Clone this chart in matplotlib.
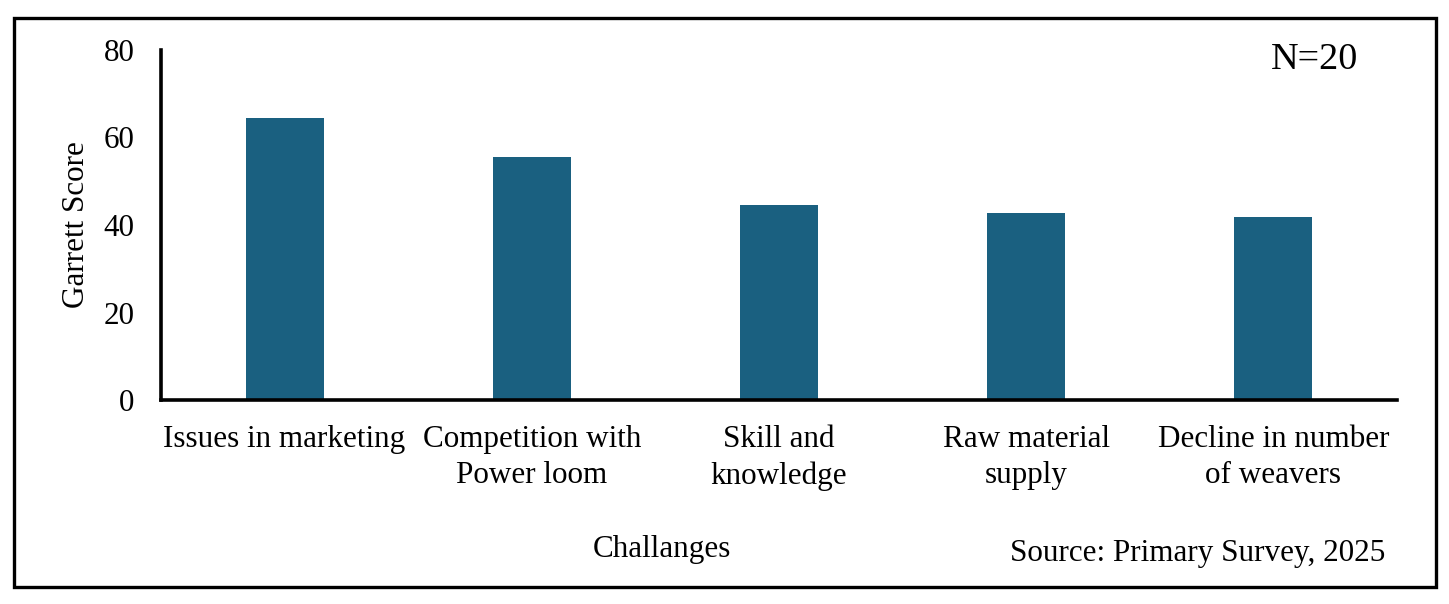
import matplotlib
matplotlib.use("Agg")
import matplotlib.pyplot as plt
from matplotlib.patches import Rectangle

categories = ["Issues in marketing", "Competition with\nPower loom", "Skill and\nknowledge",
              "Raw material\nsupply", "Decline in number\nof weavers"]
scores = [64.4, 55.5, 44.5, 42.7, 41.8]
yticks = [0, 20, 40, 60, 80]

plt.rcParams['font.family'] = ['Liberation Serif', 'DejaVu Serif']

W, H = 1449, 604
fig = plt.figure(figsize=(W / 100, H / 100), dpi=100)
ax = fig.add_axes([161 / W, 1 - 400 / H, (1397 - 161) / W, 350 / H])

ax.bar(range(len(categories)), scores, width=0.315, color="#1a6080")
ax.set_xlim(-0.5, len(categories) - 0.5)
ax.set_ylim(0, 80)
ax.set_yticks(yticks)
ax.set_xticks(range(len(categories)))
ax.set_xticklabels(categories, fontsize=22.4, linespacing=1.32)
ax.tick_params(axis='y', labelsize=22.4, length=0, pad=19)
ax.tick_params(axis='x', length=0, pad=18)
for s in ['top', 'right']:
    ax.spines[s].set_visible(False)
for s in ['left', 'bottom']:
    ax.spines[s].set_linewidth(2.6)
ax.set_ylabel("Garrett Score", fontsize=22.4, labelpad=9)

fig.text(662 / W, 1 - 550 / H, "Challanges", fontsize=22.4, ha='center', va='center')
fig.text(1385 / W, 1 - 553 / H, "Source: Primary Survey, 2025", fontsize=22.4, ha='right', va='center')
fig.text(1315 / W, 1 - 60 / H, "N=20", fontsize=27.5, ha='center', va='center')

fig.patches.append(Rectangle((14 / W, 1 - 587 / H), (1436 - 14) / W, (587 - 18) / H,
                             transform=fig.transFigure, fill=False, edgecolor='black',
                             linewidth=2.4))

fig.savefig("out.png", dpi=100)
